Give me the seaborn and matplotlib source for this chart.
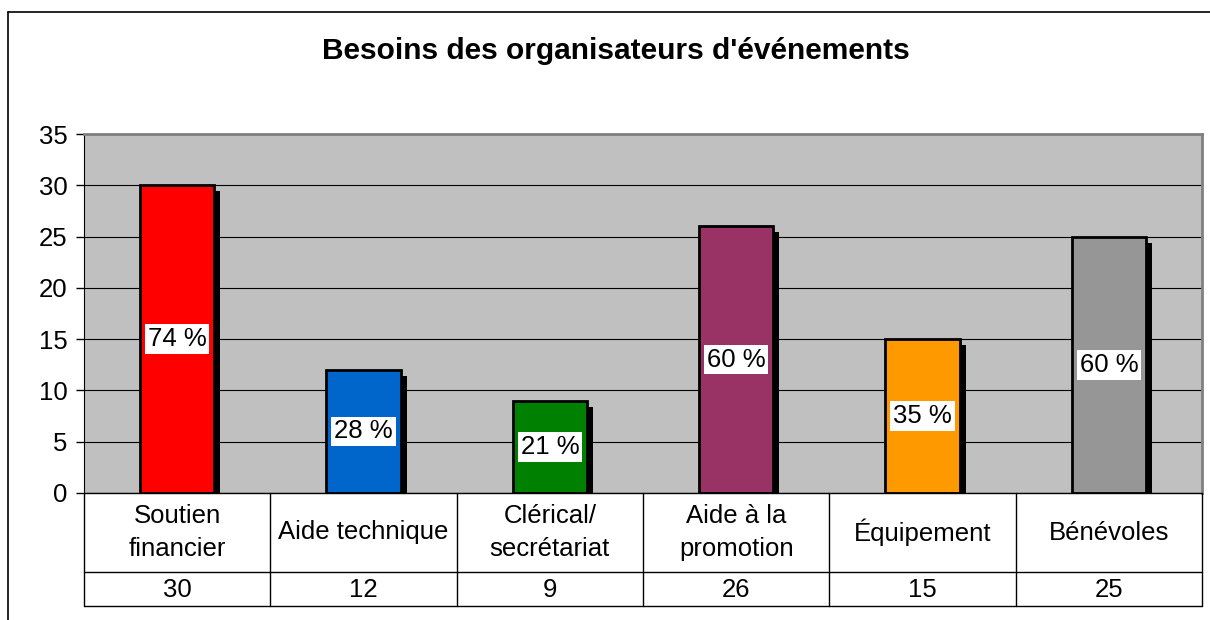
import matplotlib
matplotlib.use("Agg")
import matplotlib.pyplot as plt
import matplotlib.transforms as mtransforms
from matplotlib.patches import Rectangle
from matplotlib.lines import Line2D
import seaborn as sns
import pandas as pd

# données
categories = ["Soutien\nfinancier", "Aide technique", "Clérical/\nsecrétariat",
              "Aide à la\npromotion", "Équipement", "Bénévoles"]
valeurs = [30, 12, 9, 26, 15, 25]
pourcentages = ["74 %", "28 %", "21 %", "60 %", "35 %", "60 %"]
couleurs = ["#FF0000", "#0066CC", "#008000", "#993366", "#FF9900", "#969696"]
yticks = [0, 5, 10, 15, 20, 25, 30, 35]

df = pd.DataFrame({"cat": categories, "val": valeurs})

sns.set_style("white")
plt.rcParams["font.family"] = ["Liberation Sans", "DejaVu Sans"]
plt.rcParams["text.color"] = "black"
plt.rcParams["ytick.color"] = "black"
plt.rcParams["ytick.labelcolor"] = "black"

W, H = 1210, 620
fig = plt.figure(figsize=(12.1, 6.2), dpi=100)

# bordure du graphique
fig.add_artist(Line2D([8 / W, 1], [1 - 12 / H, 1 - 12 / H], color="black", lw=1.2))
fig.add_artist(Line2D([8 / W, 8 / W], [0, 1 - 12 / H], color="black", lw=1.2))

x0, x1 = 84 / W, 1202 / W
ax = fig.add_axes([x0, 1 - 493 / H, x1 - x0, (493 - 134) / H])
ax.set_facecolor("#C0C0C0")

sns.barplot(data=df, x="cat", y="val", hue="cat", palette=couleurs, legend=False,
            saturation=1, width=0.4, edgecolor="black", linewidth=2, ax=ax, zorder=3)

# ombres
shadow_tr = mtransforms.offset_copy(ax.transData, fig=fig, x=6, y=-6, units="dots")
for p in list(ax.patches):
    ax.add_patch(Rectangle((p.get_x(), 0), p.get_width(), p.get_height(),
                           facecolor="black", edgecolor="none",
                           transform=shadow_tr, zorder=2))

# étiquettes
for i, (v, lab) in enumerate(zip(valeurs, pourcentages)):
    ax.text(i, v / 2, lab, ha="center", va="center", fontsize=18.5, zorder=5,
            bbox=dict(facecolor="white", edgecolor="none", pad=2))

ax.set_ylim(0, 35)
ax.set_xlim(-0.5, len(categories) - 0.5)
ax.set_yticks(yticks)
ax.set_yticklabels([str(t) for t in yticks], fontsize=18.5)
ax.set_xticks([])
ax.set_xlabel("")
ax.set_ylabel("")
ax.grid(axis="y", color="black", lw=0.8, zorder=1)
ax.set_axisbelow(True)
ax.tick_params(axis="y", which="both", left=True, length=6, width=1, color="black", pad=6)
for s in ["top", "right"]:
    ax.spines[s].set_color("#808080")
    ax.spines[s].set_linewidth(2)
ax.spines["left"].set_color("black")
ax.spines["bottom"].set_visible(False)

# tableau de données
tab = fig.add_axes([x0, 1 - 606 / H, x1 - x0, (606 - 493) / H])
tab.set_xlim(-0.5, len(categories) - 0.5)
tab.set_ylim(0, 113)
tab.axis("off")
split = 606 - 572
for k in range(len(categories) + 1):
    tab.plot([k - 0.5, k - 0.5], [0, 113], color="black", lw=1, clip_on=False)
for yy in [0, split, 113]:
    tab.plot([-0.5, len(categories) - 0.5], [yy, yy], color="black", lw=1, clip_on=False)
for i, (c, v) in enumerate(zip(categories, valeurs)):
    tab.text(i, (split + 113) / 2, c, ha="center", va="center", fontsize=18.5,
             linespacing=1.45)
    tab.text(i, split / 2 - 1, str(v), ha="center", va="center", fontsize=18.5)

fig.text(616 / W, 1 - 51 / H, "Besoins des organisateurs d'événements",
         ha="center", va="center", fontsize=21.5, fontweight="bold")

fig.savefig("out.png", dpi=100, facecolor="white")
